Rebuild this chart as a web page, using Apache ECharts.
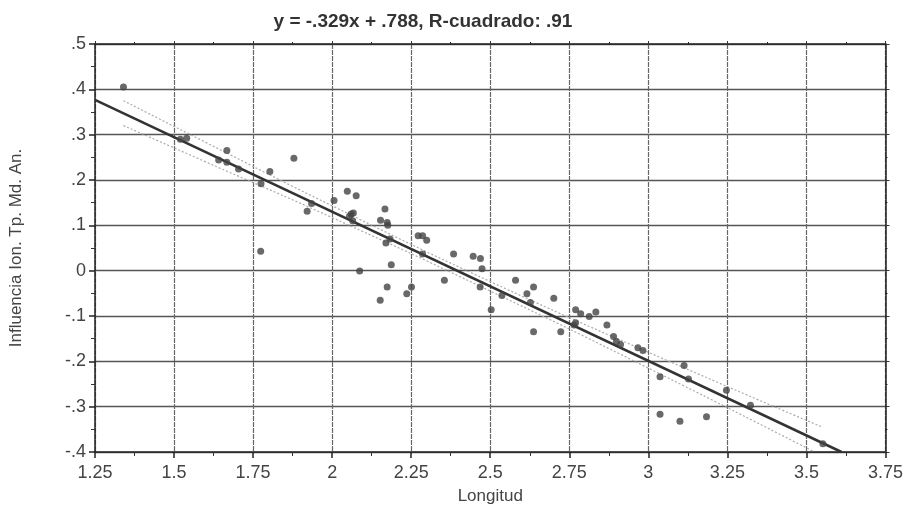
<!DOCTYPE html>
<html><head><meta charset="utf-8">
<script src="https://cdn.jsdelivr.net/npm/echarts@6/dist/echarts.min.js"></script>
<style>html,body{margin:0;padding:0;background:#fff}#c{width:906px;height:513px}</style>
</head><body><div id="c"></div>
<script>
// Observed points: [Longitud, Influencia]
const pointsX = [1.34,1.52,1.54,1.667,1.641,1.667,1.704,1.803,1.879,1.775,1.935,1.921,2.006,1.774,
  2.048,2.076,2.055,2.065,2.06,2.067,2.167,2.153,2.174,2.176,2.183,2.17,2.272,2.286,2.299,2.286,
  2.087,2.187,2.174,2.152,2.251,2.236,2.384,2.355,2.446,2.469,2.474,2.468,2.503,2.537,2.58,2.616,
  2.637,2.627,2.701,2.637,2.723,2.77,2.786,2.813,2.834,2.77,2.765,2.869,2.89,2.899,2.912,2.967,
  2.983,3.037,3.113,3.127,3.247,3.323,3.037,3.1,3.184,3.552];
const pointsY = [0.405,0.29,0.292,0.265,0.244,0.239,0.224,0.219,0.248,0.192,0.148,0.131,0.155,0.043,
  0.175,0.165,0.12,0.11,0.125,0.127,0.136,0.111,0.106,0.10,0.070,0.061,0.077,0.077,0.067,0.037,
  -0.001,0.013,-0.036,-0.065,-0.036,-0.051,0.037,-0.021,0.032,0.027,0.004,-0.036,-0.086,-0.055,-0.021,-0.051,
  -0.036,-0.070,-0.061,-0.135,-0.135,-0.086,-0.095,-0.101,-0.091,-0.115,-0.12,-0.120,-0.145,-0.156,-0.163,-0.170,
  -0.176,-0.234,-0.209,-0.239,-0.264,-0.297,-0.317,-0.332,-0.322,-0.382];
// Fitted line endpoints (y = -.329x + .788)
const fitX = [1.25, 3.611];
const fitY = [0.377, -0.400];
// Confidence bands
const upperX = [1.34, 1.6, 2.0, 2.5, 3.0, 3.55];
const upperY = [0.375, 0.283, 0.143, -0.024, -0.180, -0.345];
const lowerX = [1.34, 1.6, 2.0, 2.5, 3.0, 3.52];
const lowerY = [0.320, 0.240, 0.117, -0.045, -0.215, -0.398];
const titleText = 'y = -.329x + .788, R-cuadrado: .91';
const xName = 'Longitud';
const yName = 'Influencia Ion. Tp. Md. An.';

const zip = (a, b) => a.map((v, i) => [v, b[i]]);
const yFmt = v => {
  const r = Math.round(v * 10) / 10;
  if (r === 0) return '0';
  return (r < 0 ? '-' : '') + String(Math.abs(r)).replace(/^0/, '');
};
const font = 'Liberation Sans, Arial, sans-serif';
const chart = echarts.init(document.getElementById('c'));
chart.setOption({
  animation: false,
  backgroundColor: '#fff',
  title: { text: titleText, left: 418, textAlign: 'center', top: 7,
    textStyle: { fontFamily: font, fontSize: 19, fontWeight: 'bold', color: '#333' } },
  grid: { left: 94, right: 17, top: 44, bottom: 61, containLabel: false },
  xAxis: [{
    type: 'value', min: 1.25, max: 3.75, interval: 0.25,
    name: xName, nameLocation: 'middle', nameGap: 36,
    nameTextStyle: { fontFamily: font, fontSize: 17, color: '#444' },
    axisLine: { show: true, onZero: false, lineStyle: { color: '#222', width: 1.5 } },
    axisTick: { show: true, length: 6, lineStyle: { color: '#222', width: 1.5 } },
    minorTick: { show: true, splitNumber: 2, length: 4, lineStyle: { color: '#333' } },
    axisLabel: { fontFamily: font, fontSize: 18, color: '#444', margin: 12 },
    splitLine: { show: true, lineStyle: { color: '#666', width: 1.2, type: [5, 1] } }
  }, {
    type: 'value', position: 'top', min: 1.25, max: 3.75, interval: 0.25,
    axisLine: { show: true, onZero: false, lineStyle: { color: '#222', width: 1.5 } },
    axisTick: { show: true, length: 3, lineStyle: { color: '#333' } },
    minorTick: { show: true, splitNumber: 2, length: 2 },
    axisLabel: { show: false }, splitLine: { show: false }
  }],
  yAxis: [{
    type: 'value', min: -0.4, max: 0.5, interval: 0.1,
    name: yName, nameLocation: 'middle', nameGap: 70, nameRotate: 90,
    nameTextStyle: { fontFamily: font, fontSize: 17, color: '#444' },
    axisLine: { show: true, onZero: false, lineStyle: { color: '#222', width: 1.5 } },
    axisTick: { show: true, length: 6, lineStyle: { color: '#222', width: 1.5 } },
    minorTick: { show: true, splitNumber: 2, length: 4, lineStyle: { color: '#333' } },
    axisLabel: { fontFamily: font, fontSize: 18, color: '#444', margin: 9, formatter: yFmt },
    splitLine: { show: true, lineStyle: { color: '#555', width: 1.4 } }
  }, {
    type: 'value', position: 'right', min: -0.4, max: 0.5, interval: 0.1,
    axisLine: { show: true, onZero: false, lineStyle: { color: '#222', width: 1.5 } },
    axisTick: { show: true, length: 4, lineStyle: { color: '#333' } },
    minorTick: { show: true, splitNumber: 2, length: 2 },
    axisLabel: { show: false }, splitLine: { show: false }
  }],
  series: [
    { type: 'line', data: zip(upperX, upperY), smooth: true, showSymbol: false, symbol: 'none',
      lineStyle: { color: '#aaa', width: 1.2, type: [2, 2] }, z: 3 },
    { type: 'line', data: zip(lowerX, lowerY), smooth: true, showSymbol: false, symbol: 'none',
      lineStyle: { color: '#aaa', width: 1.2, type: [2, 2] }, z: 3 },
    { type: 'line', data: zip(fitX, fitY), showSymbol: false, symbol: 'none',
      lineStyle: { color: '#333', width: 2.5 }, z: 4 },
    { type: 'scatter', data: zip(pointsX, pointsY), symbolSize: 7,
      itemStyle: { color: '#444' }, z: 5 }
  ]
});
</script></body></html>
